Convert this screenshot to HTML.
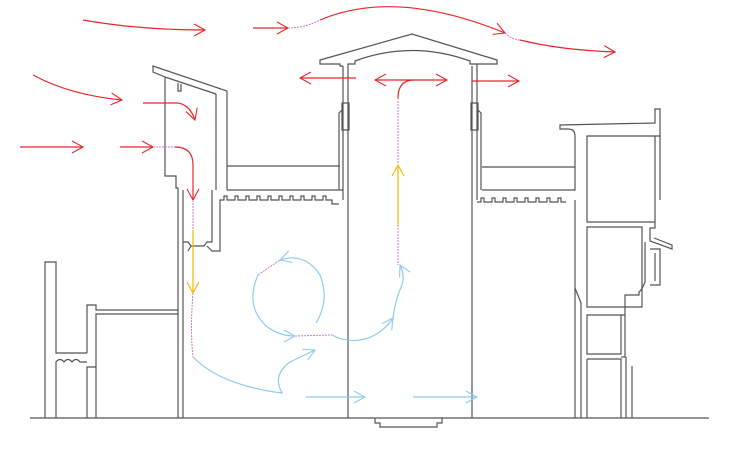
<!DOCTYPE html>
<html><head><meta charset="utf-8"><style>html,body{margin:0;padding:0;background:#fff}svg{display:block}</style></head>
<body>
<svg width="730" height="455" viewBox="0 0 730 455" xmlns="http://www.w3.org/2000/svg">
<defs>
<marker id="ar" markerWidth="14" markerHeight="14" refX="12" refY="7" orient="auto" markerUnits="userSpaceOnUse"><path d="M1,1 L12,7 L1,13" fill="none" stroke="#e8262a" stroke-width="1.1"/></marker>
<marker id="arS" markerWidth="14" markerHeight="14" refX="2" refY="7" orient="auto" markerUnits="userSpaceOnUse"><path d="M13,1 L2,7 L13,13" fill="none" stroke="#e8262a" stroke-width="1.1"/></marker>
<marker id="ay" markerWidth="14" markerHeight="14" refX="12" refY="7" orient="auto" markerUnits="userSpaceOnUse"><path d="M1,1 L12,7 L1,13" fill="none" stroke="#f5b800" stroke-width="1.1"/></marker>
<marker id="ab" markerWidth="14" markerHeight="14" refX="12" refY="7" orient="auto" markerUnits="userSpaceOnUse"><path d="M1,1 L12,7 L1,13" fill="none" stroke="#8fcbef" stroke-width="1.1"/></marker>
</defs>
<g fill="none" stroke="#555" stroke-width="1.2">
<!-- ground -->
<path d="M30,418 H709"/>
<path d="M375,418 v5 h5 v4 h57 v-4 h5 v-5"/>
<!-- left chimney -->
<path d="M45,418 V262 H56 V353 H87"/>
<path d="M56,418 V362 q4,-5 8,0 q4,-5 8,0 q4,-5 8,0 h7"/>
<path d="M87,353 V305 H96 V310 H178"/>
<path d="M87,418 V367 H96 M96,418 V314 H178"/>
<!-- left main walls -->
<path d="M178,418 V188 H176 V176 H165 V77 L153,72 V66 L227,91 V190"/>
<path d="M216,94 V190 M165,77 L216,94"/>
<path d="M178,83 v8 h3 v-7"/>
<path d="M183,418 V190 M183,242 h5 l3,4 h13 l3,-4 h5 V190 M188,251 l3,-5 M207,246 l5,5 h8 V202"/>
<!-- left floor slab -->
<path d="M227,166 H340 M227,190 H343"/>
<path d="M220,202 V200 h4 v-4 h3 v4 h8 v-4 h3 v4 h8 v-4 h3 v4 h8 v-4 h3 v4 h8 v-4 h3 v4 h8 v-4 h3 v4 h8 v-4 h3 v4 h8 v-4 h3 v4 h8 v-4 h3 v4 h8 v-4 h3 v4 h6 v4 h7"/>
<!-- tower -->
<path d="M343,200 V66 M348,418 V66 M339,190 V113 l3,-3 M342,103 h7 v27 h-7 z"/>
<path d="M472,418 V66 M477,200 V66 M481,190 V113 l-3,-3 M471,103 h7 v27 h-7 z"/>
<path d="M343,66 h-3 v-2 h-20 v-4 L412,34 L497,60 v4 h-20 v2 M348,66 v-2 h7 v-3 Q412,40 470,61 v3 h7"/>
<!-- right slab -->
<path d="M482,167 H575 M482,190 H575 V136 q0,-7 -7,-7 h-8 v-4 L655,123 V109 h5 V136 H587 V222 H655 V136"/>
<path d="M477,202 h4 v-4 h3 v4 h8 v-4 h3 v4 h8 v-4 h3 v4 h8 v-4 h3 v4 h8 v-4 h3 v4 h8 v-4 h3 v4 h8 v-4 h3 v4 h8 v-4 h3 v4 h5"/>
<path d="M575,200 V418 M581,418 V303 l-6,-15"/>
<path d="M587,227 H642 V307 H587 Z M587,315 H621 V354 H587 Z M587,359 H621 V418 M587,359 V418"/>
<path d="M660,136 V200 M655,222 v6 h-5 v13 l22,8 v-4 l-18,-7 M645,242 v40 q-3,8 -6,10 v3 h-14 v20 h-4 M625,315 v42 h-4 M626,357 v61 M632,366 v52 M650,249 h10 v36 h-10 M655,253 v28"/>
</g>
<!-- red flows -->
<g fill="none" stroke="#e8262a" stroke-width="1.2">
<path d="M83,20 Q140,30 205,30" marker-end="url(#ar)"/>
<path d="M253,28 H288" marker-end="url(#ar)"/>
<path d="M320,20 Q395,-12 505,33" marker-end="url(#ar)"/>
<path d="M520,40 Q560,50 615,52" marker-end="url(#ar)"/>
<path d="M33,75 Q70,95 122,100" marker-end="url(#ar)"/>
<path d="M143,103 H178 Q190,105 195,120" marker-end="url(#ar)"/>
<path d="M20,147 H83" marker-end="url(#ar)"/>
<path d="M120,147 H153" marker-end="url(#ar)"/>
<path d="M175,147 Q193,147 193,165 V200" marker-end="url(#ar)"/>
<path d="M356,78 H300" marker-end="url(#ar)"/>
<path d="M375,80 H447" marker-start="url(#arS)" marker-end="url(#ar)"/>
<path d="M414,80 Q398,80 398,98"/>
<path d="M472,81 H519" marker-end="url(#ar)"/>
</g>
<g fill="none" stroke="#d07ac8" stroke-width="1" stroke-dasharray="2,1">
<path d="M288,28 Q305,28 320,20 M505,33 Q512,40 520,40 M153,147 H175 M193,200 V230 M398,98 V163 M398,225 V265"/>
<path d="M193,293 Q190,330 193,357 M258,275 L280,260 M295,336 L332,335 M393,318 L392,323"/>
</g>
<!-- yellow -->
<g fill="none" stroke="#f5b800" stroke-width="1.2">
<path d="M193,230 V293" marker-end="url(#ay)"/>
<path d="M398,225 V165" marker-end="url(#ay)"/>
</g>
<!-- blue -->
<g fill="none" stroke="#8fcbef" stroke-width="1.2">
<path d="M316,323 Q330,300 320,275 Q305,252 280,260" marker-end="url(#ab)"/>
<path d="M258,275 Q245,305 265,325 Q278,336 295,336" marker-end="url(#ab)"/>
<path d="M332,335 Q345,342 360,340 Q380,337 393,318" marker-end="url(#ab)"/>
<path d="M393,318 Q395,300 402,285 Q405,275 400,265" marker-end="url(#ab)"/>
<path d="M193,357 Q220,385 282,393 Q272,375 290,362 L315,350" marker-end="url(#ab)"/>
<path d="M306,397 H365" marker-end="url(#ab)"/>
<path d="M413,397 H477" marker-end="url(#ab)"/>
</g>
</svg>
</body></html>
